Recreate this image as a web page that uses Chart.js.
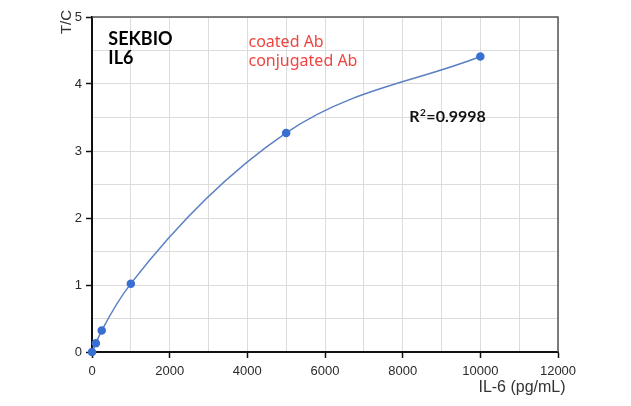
<!DOCTYPE html>
<html>
<head>
<meta charset="utf-8">
<script src="https://cdn.jsdelivr.net/npm/chart.js@4/dist/chart.umd.min.js"></script>
<style>
  html, body { margin: 0; padding: 0; background: #fff; }
  #wrap { width: 631px; height: 406px; }
</style>
</head>
<body>
<div id="wrap"><canvas id="chart"></canvas></div>
<script>
// standard curve, IL-6 concentration vs T/C
const concentrations = [0, 100, 250, 1000, 5000, 10000];
const tcValues = [0, 0.13, 0.32, 1.02, 3.27, 4.41];
const xTicks = [0, 2000, 4000, 6000, 8000, 10000, 12000];
const yTicks = [0, 1, 2, 3, 4, 5];

// notes drawn on top of the plot (anchor in data units)
const notes = [
  { lines: ['SEKBIO', 'IL6'], x: 420, y: 4.58, font: 'bold 18px Lato, "Open Sans", sans-serif', color: '#000', lh: 19 },
  { lines: ['coated Ab', 'conjugated Ab'], x: 4030, y: 4.55, font: '16px "Noto Sans", "Open Sans", sans-serif', color: '#f0443f', lh: 19 },
];

Chart.defaults.font.family = '"Liberation Sans", Arial, sans-serif';
Chart.defaults.color = '#333';

const isMajorX = v => xTicks.includes(v);
const isMajorY = v => yTicks.includes(v);

const decorations = {
  id: 'decorations',
  afterDraw(chart) {
    const { ctx, chartArea: a, scales } = chart;
    ctx.save();
    // top and right frame
    ctx.strokeStyle = '#555';
    ctx.lineWidth = 1.5;
    ctx.beginPath();
    ctx.moveTo(a.left, a.top);
    ctx.lineTo(a.right, a.top);
    ctx.lineTo(a.right, a.bottom);
    ctx.stroke();

    ctx.textBaseline = 'alphabetic';
    ctx.textAlign = 'left';
    notes.forEach(n => {
      ctx.font = n.font;
      ctx.fillStyle = n.color;
      const px = scales.x.getPixelForValue(n.x);
      const py = scales.y.getPixelForValue(n.y);
      n.lines.forEach((t, i) => ctx.fillText(t, px, py + i * n.lh));
    });

    // R squared
    const rx = scales.x.getPixelForValue(8170);
    const ry = scales.y.getPixelForValue(3.44);
    ctx.font = 'bold 16px Lato, sans-serif';
    ctx.fillStyle = '#111';
    ctx.fillText('R', rx, ry);
    const rw = ctx.measureText('R').width;
    ctx.font = 'bold 10px Lato, sans-serif';
    ctx.fillText('2', rx + rw + 0.5, ry - 6);
    const sw = ctx.measureText('2').width;
    ctx.font = 'bold 16px Lato, sans-serif';
    ctx.fillText('=0.9998', rx + rw + sw + 1, ry);

    // axis titles
    ctx.fillStyle = '#333';
    ctx.font = '16px "Liberation Sans", Arial, sans-serif';
    ctx.textAlign = 'center';
    ctx.fillText('IL-6 (pg/mL)', 522, 392);
    ctx.save();
    ctx.translate(71, 22);
    ctx.rotate(-Math.PI / 2);
    ctx.font = '15px "Liberation Sans", Arial, sans-serif';
    ctx.fillText('T/C', 0, 0);
    ctx.restore();
    ctx.restore();
  }
};

new Chart(document.getElementById('chart'), {
  type: 'scatter',
  data: {
    datasets: [{
      data: concentrations.map((c, i) => ({ x: c, y: tcValues[i] })),
      showLine: true,
      cubicInterpolationMode: 'monotone',
      borderColor: '#5b80c4',
      borderWidth: 1.5,
      pointRadius: 3.5,
      pointBackgroundColor: '#3a6fd2',
      pointBorderColor: '#3a6fd2',
      clip: false
    }]
  },
  options: {
    responsive: true,
    maintainAspectRatio: false,
    animation: false,
    layout: { padding: { top: 17, right: 73, left: 0, bottom: 0 } },
    plugins: { legend: { display: false }, tooltip: { enabled: false } },
    scales: {
      x: {
        type: 'linear',
        min: 0, max: 12000,
        afterFit: s => { s.height = 406 - 352; },
        ticks: {
          stepSize: 1000,
          autoSkip: false,
          maxRotation: 0,
          padding: 6,
          font: { size: 13 },
          color: '#2a2a2a',
          callback: v => isMajorX(v) ? String(v) : ''
        },
        grid: {
          color: '#dcdcdc',
          lineWidth: 1,
          tickLength: 6,
          tickColor: c => isMajorX(c.tick.value) ? '#111' : 'rgba(0,0,0,0)',
          tickWidth: 1.5
        },
        border: { color: '#111', width: 2 }
      },
      y: {
        type: 'linear',
        min: 0, max: 5,
        afterFit: s => { s.width = 92; },
        ticks: {
          stepSize: 0.5,
          autoSkip: false,
          padding: 4,
          font: { size: 13 },
          color: '#2a2a2a',
          callback: v => isMajorY(v) ? String(v) : ''
        },
        grid: {
          color: '#dcdcdc',
          lineWidth: 1,
          tickLength: 6,
          tickColor: c => isMajorY(c.tick.value) ? '#111' : 'rgba(0,0,0,0)',
          tickWidth: 1.5
        },
        border: { color: '#111', width: 2 }
      }
    }
  },
  plugins: [decorations]
});
</script>
</body>
</html>
